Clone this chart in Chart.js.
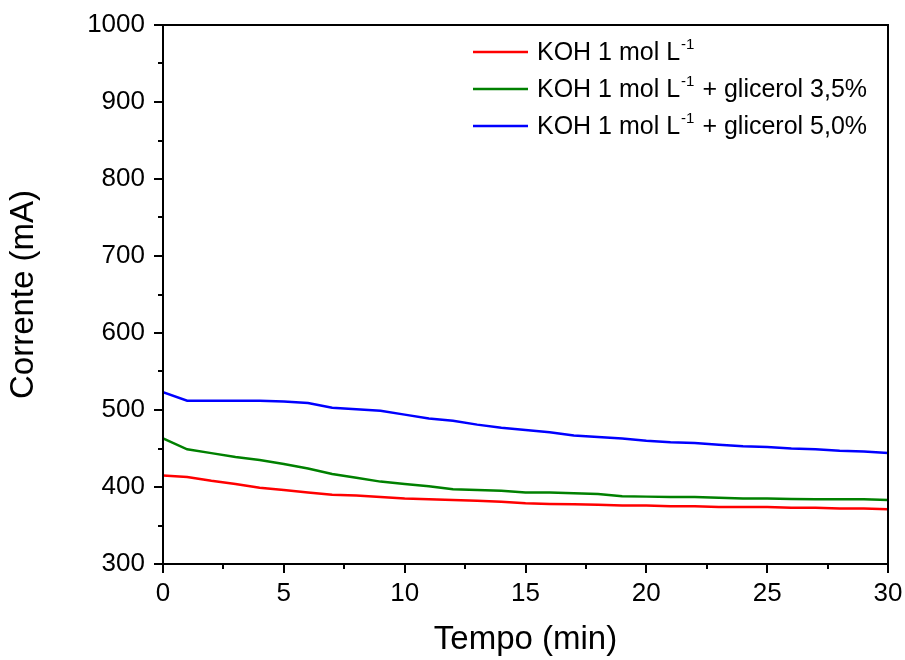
<!DOCTYPE html>
<html>
<head>
<meta charset="utf-8">
<script src="https://cdn.jsdelivr.net/npm/chart.js@4.4.1/dist/chart.umd.min.js"></script>
<style>
  html, body { margin: 0; padding: 0; background: #fff; }
  #wrap { width: 905px; height: 660px; }
</style>
</head>
<body>
<div id="wrap"><canvas id="myChart" width="905" height="660"></canvas></div>
<script>
// tempo (min)
let minutes = [0, 1, 2, 3, 4, 5, 6, 7, 8, 9, 10, 11, 12, 13, 14, 15,
    16, 17, 18, 19, 20, 21, 22, 23, 24, 25, 26, 27, 28, 29, 30];

// corrente (mA)
let kohOnly = [415, 413, 408, 404, 399, 396, 393, 390, 389, 387, 385, 384, 383, 382, 381, 379,
    378, 377.5, 377, 376, 376, 375, 375, 374, 374, 374, 373, 373, 372, 372, 371];
let kohGli35 = [463, 449, 444, 439, 435, 430, 424, 417, 412, 407, 404, 401, 397, 396, 395, 393,
    393, 392, 391, 388, 387.5, 387, 387, 386, 385, 385, 384.5, 384, 384, 384, 383];
let kohGli50 = [523, 512, 512, 512, 512, 511, 509, 503, 501, 499, 494, 489, 486, 481, 477, 474,
    471, 467, 465, 463, 460, 458, 457, 455, 453, 452, 450, 449, 447, 446, 444];

let seriesNames = ['KOH 1 mol L', 'KOH 1 mol L', 'KOH 1 mol L'];
let seriesTails = ['', ' + glicerol 3,5%', ' + glicerol 5,0%'];
let seriesColors = ['#ff0000', '#008000', '#0000ff'];

let yTicks = [300, 400, 500, 600, 700, 800, 900, 1000];
let xTicks = [0, 5, 10, 15, 20, 25, 30];

let FONT = '"Liberation Sans", Arial, sans-serif';

function toPoints(values) {
    return values.map((v, i) => ({x: minutes[i], y: v}));
}

// frame, outward ticks (major + minor) and legend with superscript
let originPlugin = {
    id: 'originLook',
    afterDraw(chart) {
        let ctx = chart.ctx;
        let a = chart.chartArea;
        let xs = chart.scales.x, ys = chart.scales.y;
        ctx.save();
        ctx.strokeStyle = '#000';
        ctx.lineWidth = 2;
        ctx.strokeRect(a.left, a.top, a.right - a.left, a.bottom - a.top);

        ctx.beginPath();
        for (let v = yTicks[0]; v <= yTicks[yTicks.length - 1]; v += 50) {
            let len = yTicks.includes(v) ? 9 : 5;
            let py = Math.round(ys.getPixelForValue(v)) ;
            ctx.moveTo(a.left, py);
            ctx.lineTo(a.left - len, py);
        }
        for (let v = xTicks[0]; v <= xTicks[xTicks.length - 1]; v += 2.5) {
            let len = xTicks.includes(v) ? 9 : 5;
            let px = Math.round(xs.getPixelForValue(v));
            ctx.moveTo(px, a.bottom);
            ctx.lineTo(px, a.bottom + len);
        }
        ctx.stroke();

        // legend
        let rows = [52, 89, 126];
        chart.data.datasets.forEach((ds, i) => {
            let y = rows[i];
            ctx.strokeStyle = ds.borderColor;
            ctx.lineWidth = 2.5;
            ctx.beginPath();
            ctx.moveTo(473, y);
            ctx.lineTo(528, y);
            ctx.stroke();

            ctx.fillStyle = '#000';
            ctx.textBaseline = 'alphabetic';
            ctx.textAlign = 'left';
            ctx.font = '25px ' + FONT;
            let x = 537;
            let base = y + 8;
            ctx.fillText(seriesNames[i], x, base);
            x += ctx.measureText(seriesNames[i]).width + 1;
            ctx.font = '15px ' + FONT;
            ctx.fillText('-1', x, base - 11);
            x += ctx.measureText('-1').width + 1;
            ctx.font = '25px ' + FONT;
            ctx.fillText(seriesTails[i], x, base);
        });
        ctx.restore();
    }
};

let ctx = document.getElementById('myChart').getContext('2d');
let chart = new Chart(ctx, {
    type: 'line',
    data: {
        datasets: [
            {label: 'KOH 1 mol L-1', data: toPoints(kohOnly), borderColor: seriesColors[0]},
            {label: 'KOH 1 mol L-1 + glicerol 3,5%', data: toPoints(kohGli35), borderColor: seriesColors[1]},
            {label: 'KOH 1 mol L-1 + glicerol 5,0%', data: toPoints(kohGli50), borderColor: seriesColors[2]}
        ].map(d => Object.assign(d, {borderWidth: 2.5, pointRadius: 0, tension: 0, fill: false}))
    },
    options: {
        responsive: false,
        animation: false,
        layout: {padding: {left: 0, top: 25, right: 17, bottom: 0}},
        plugins: {legend: {display: false}, tooltip: {enabled: false}},
        scales: {
            x: {
                type: 'linear',
                min: 0, max: 30,
                afterFit: s => { s.height = 96; s.paddingLeft = 0; s.paddingRight = 0; },
                afterBuildTicks: s => { s.ticks = xTicks.map(v => ({value: v})); },
                grid: {display: false, drawTicks: false},
                border: {display: false},
                ticks: {color: '#000', padding: 14, maxRotation: 0, font: {family: FONT, size: 26},
                    callback: v => String(v)},
                title: {display: true, text: 'Tempo (min)', color: '#000', padding: 0,
                    font: {family: FONT, size: 33, lineHeight: 1.2}}
            },
            y: {
                min: 300, max: 1000,
                afterFit: s => { s.width = 163; s.paddingTop = 0; s.paddingBottom = 0; },
                afterBuildTicks: s => { s.ticks = yTicks.map(v => ({value: v})); },
                grid: {display: false, drawTicks: false},
                border: {display: false},
                ticks: {color: '#000', padding: 18, font: {family: FONT, size: 26},
                    callback: v => String(v)},
                title: {display: true, text: 'Corrente (mA)', color: '#000', padding: {top: 4, bottom: 0},
                    font: {family: FONT, size: 33, lineHeight: 1.2}}
            }
        }
    },
    plugins: [originPlugin]
});
</script>
</body>
</html>
